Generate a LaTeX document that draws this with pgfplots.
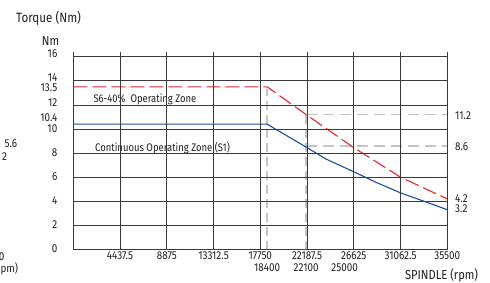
\documentclass[border=0pt]{standalone}
\usepackage{fontspec}
\setmainfont{Fira Sans}[FakeStretch=0.86]
\usepackage{pgfplots}
\pgfplotsset{compat=1.18}
\definecolor{redc}{HTML}{E8272B}
\definecolor{bluec}{HTML}{1D4E9E}
\definecolor{grayd}{HTML}{C4C4C4}
\definecolor{gridc}{HTML}{3A3A3A}
\definecolor{txt}{HTML}{231F20}
\begin{document}
\begin{tikzpicture}[font=\fontsize{11.5}{13}\selectfont, color=txt]
\path[use as bounding box] (-73.3pt,-32.5pt) rectangle (416.7pt,249.5pt);
\begin{axis}[
  at={(0pt,0pt)}, anchor=south west,
  scale only axis, width=374pt, height=192.8pt,
  xmin=0, xmax=35500, ymin=0, ymax=16,
  scaled x ticks=false, scaled y ticks=false,
  axis on top,
  axis line style={gridc, line width=0.8pt},
  major tick length=0pt,
  grid=major,
  major grid style={gridc, line width=0.8pt},
  xtick={4437.5,8875,13312.5,17750,22187.5,26625,31062.5,35500},
  xticklabels={4437.5,8875,13312.5,17750,22187.5,26625,31062.5,35500},
  ytick={0,2,4,6,8,10,12,14,16},
  yticklabels={0,2,4,6,8,\raisebox{-0.8pt}{10},\raisebox{1.5pt}{12},\raisebox{2.5pt}{14},\raisebox{2pt}{16}},
  extra x ticks={18400,22100,25000},
  extra x tick labels={18400,22100,\hspace{16pt}25000},
  extra y ticks={13.5,10.4},
  extra y tick labels={\raisebox{-2pt}{13.5},\raisebox{6pt}{10.4}},
  extra x tick style={grid=none, major tick length=0pt, xticklabel style={yshift=-11.5pt}},
  extra y tick style={grid=none, major tick length=0pt},
  xticklabel style={anchor=north, inner sep=0pt, yshift=-2pt, text height=7.8pt, text depth=0pt, text=txt},
  yticklabel style={anchor=east, inner sep=0pt, xshift=-15.8pt, yshift=0.8pt, text height=7.8pt, text depth=0pt, text=txt},
  clip=false,
]
% zone texts
\node[anchor=west, inner sep=0pt, text=txt, font=\fontsize{11}{13}\selectfont] at (axis cs:1900,12.45) {S6-40\%\ \ Operating Zone};
\node[anchor=west, inner sep=0pt, text=txt, font=\fontsize{11}{13}\selectfont] at (axis cs:2060,8.42) {Continuous Operating Zone (S1)};
% gray reference lines
\addplot[grayd, line width=1.6pt, dash pattern=on 9pt off 5pt] coordinates {(18400,0) (18400,13.3)};
\addplot[grayd, line width=1.6pt, dash pattern=on 9pt off 5pt] coordinates {(22100,0) (22100,11.2)};
\addplot[grayd, line width=1.4pt, dash pattern=on 11pt off 6pt] coordinates {(22100,11.2) (35500,11.2)};
\addplot[grayd, line width=1.4pt, dash pattern=on 11pt off 6pt] coordinates {(22100,8.6) (35500,8.6)};
% S6-40% curve
\addplot[redc, line width=1.1pt, dash pattern=on 14pt off 5pt] coordinates {
  (0,13.5) (18400,13.5) (22100,11.2) (26625,8.45) (31062.5,6.0) (35500,4.2)};
% S1 curve
\addplot[bluec, line width=1.1pt] coordinates {
  (0,10.4) (18400,10.4) (22100,8.5) (24000,7.5) (26625,6.45) (28800,5.55) (31062.5,4.7) (33300,4.0) (35500,3.3)};
% gridline extensions above top
\pgfplotsinvokeforeach{0,4437.5,8875,13312.5,17750,22187.5,26625,31062.5,35500}{
  \draw[gridc, line width=0.8pt] (axis cs:#1,16) -- ++(0pt,5pt);
}
\end{axis}
% titles and labels
\node[anchor=west, inner sep=0pt, font=\fontsize{13.5}{15}\selectfont] at (-57.3pt,231pt) {Torque (Nm)};
\node[anchor=east, inner sep=0pt, font=\fontsize{13}{15}\selectfont] at (-14pt,208.5pt) {Nm};
\node[anchor=east, inner sep=0pt, font=\fontsize{13}{15}\selectfont] at (405pt,-25.8pt) {SPINDLE (rpm)};
% right-hand values
\node[anchor=west, inner sep=0pt] at (381.7pt,133.5pt) {11.2};
\node[anchor=west, inner sep=0pt] at (381.7pt,102.5pt) {8.6};
\node[anchor=west, inner sep=0pt] at (381.7pt,51pt) {4.2};
\node[anchor=west, inner sep=0pt] at (381.7pt,40.5pt) {3.2};
% remnants of neighbouring chart at left edge
\node[anchor=east, inner sep=0pt] at (-56pt,105.5pt) {5.6};
\node[anchor=east, inner sep=0pt] at (-66pt,92.5pt) {2};
\node[anchor=east, inner sep=0pt] at (-68.6pt,-7.2pt) {0};
\node[anchor=east, inner sep=0pt] at (-55pt,-19.5pt) {pm)};
\end{tikzpicture}
\end{document}
